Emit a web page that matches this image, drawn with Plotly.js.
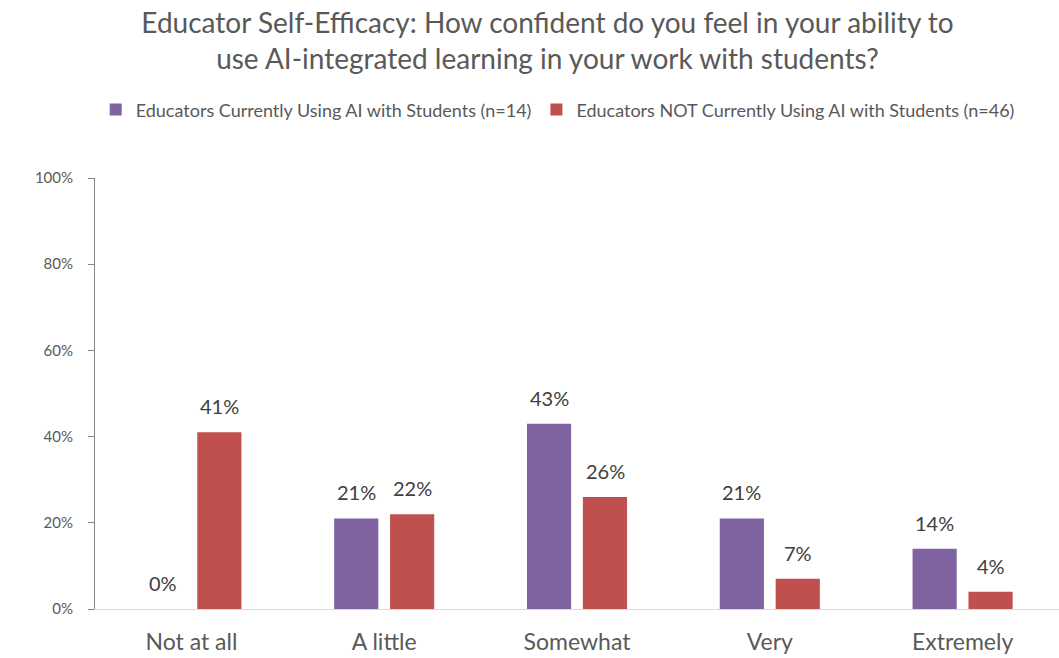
<!DOCTYPE html>
<html>
<head>
<meta charset="utf-8">
<script src="https://cdn.plot.ly/plotly-3.0.1.min.js"></script>
<style>html,body{margin:0;padding:0;background:#fff;}#chart{width:1059px;height:658px;}</style>
</head>
<body>
<div id="chart"></div>
<script>
var categories = ["Not at all", "A little", "Somewhat", "Very", "Extremely"];
var usingName = "Educators Currently Using AI with Students (n=14)";
var notUsingName = "Educators NOT Currently Using AI with Students (n=46)";
var usingValues = [0.00, 0.21, 0.43, 0.21, 0.14];
var notUsingValues = [0.41, 0.22, 0.26, 0.07, 0.04];
var yTickVals = [0, 0.2, 0.4, 0.6, 0.8, 1.0];
var titleText = "Educator Self-Efficacy: How confident do you feel in your ability to<br>use AI-integrated learning in your work with students?";

var FONT = "Lato, 'Open Sans', sans-serif";
var traces = [
  {type: "bar", name: usingName, x: categories, y: usingValues,
   marker: {color: "#8064a2"}, hoverinfo: "skip"},
  {type: "bar", name: notUsingName, x: categories, y: notUsingValues,
   marker: {color: "#c0504d"}, hoverinfo: "skip"}
];

function fmt(v) { return Math.round(v * 100) + "%"; }
var annotations = [];
[[usingValues, -28], [notUsingValues, 28]].forEach(function (s) {
  categories.forEach(function (c, i) {
    annotations.push({x: c, y: s[0][i], xref: "x", yref: "y", text: fmt(s[0][i]),
      showarrow: false, xshift: s[1], yshift: 12, yanchor: "bottom",
      font: {family: FONT, size: 20, color: "#404040"}});
  });
});

var layout = {
  width: 1059, height: 658,
  margin: {l: 95, r: 0, t: 178, b: 49},
  paper_bgcolor: "#fff", plot_bgcolor: "#fff",
  font: {family: FONT, color: "#595959"},
  title: {text: titleText, font: {family: FONT, size: 28, color: "#595959"},
          xref: "container", x: 0.517, xanchor: "center",
          yref: "container", y: 0.95, yanchor: "middle"},
  barmode: "group", bargap: 0.42, bargroupgap: 0.21,
  showlegend: true,
  legend: {orientation: "h", x: 0.48, xanchor: "center", y: 1.158, yanchor: "middle",
           font: {family: FONT, size: 18, color: "#595959"}, traceorder: "normal"},
  annotations: annotations,
  xaxis: {showgrid: false, showline: true, linecolor: "#d9d9d9", linewidth: 1,
          ticks: "", ticklabelstandoff: 12,
          tickfont: {family: FONT, size: 23, color: "#595959"}, fixedrange: true},
  yaxis: {range: [0, 1], tickvals: yTickVals, tickformat: ".0%", showgrid: false,
          zeroline: false, showline: true, linecolor: "#868686", linewidth: 1,
          ticks: "outside", ticklen: 6, tickcolor: "#868686", ticklabelstandoff: 12,
          tickfont: {family: FONT, size: 15, color: "#595959"}, fixedrange: true}
};
Plotly.newPlot("chart", traces, layout, {displayModeBar: false, staticPlot: true});
</script>
</body>
</html>
